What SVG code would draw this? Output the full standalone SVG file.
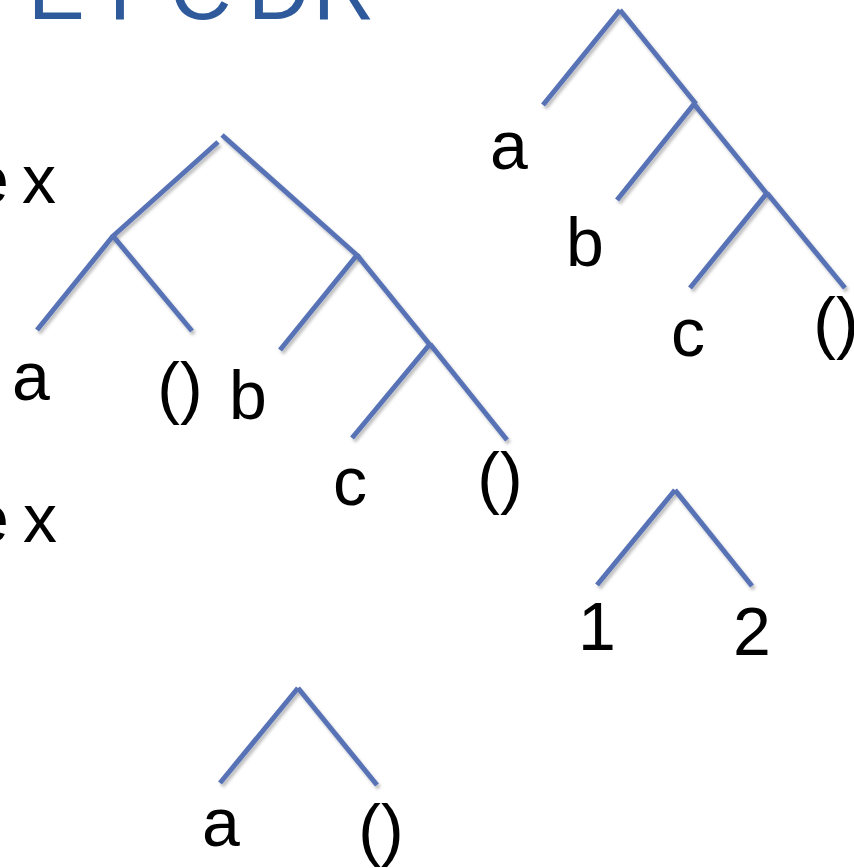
<svg xmlns="http://www.w3.org/2000/svg" width="854" height="868" viewBox="0 0 854 868">
<style>
.title{font-family:"Liberation Sans",Arial,sans-serif;font-size:85px;fill:#2E5A9B}
.lbl{font-family:"Liberation Sans",Arial,sans-serif;font-size:68px;fill:#000;text-anchor:middle}
.side{font-family:"Liberation Sans",Arial,sans-serif;font-size:68px;fill:#000}
.br{stroke:#5872B6;stroke-width:5;fill:none;stroke-linecap:butt;filter:url(#sh)}
</style>
<defs>
<filter id="sh" x="-20%" y="-20%" width="140%" height="140%">
<feDropShadow dx="2" dy="3" stdDeviation="1.5" flood-color="#000" flood-opacity="0.25"/>
</filter>
</defs>
<rect width="854" height="868" fill="#fff"/>
<text class="title" y="19"><tspan x="28">E</tspan><tspan x="94">T</tspan><tspan x="170">C</tspan><tspan x="248">D</tspan><tspan x="313">R</tspan></text>
<text class="side" y="203"><tspan x="-29">e</tspan><tspan x="22">x</tspan></text>
<text class="side" y="542"><tspan x="-29">e</tspan><tspan x="23">x</tspan></text>
<g id="connectors">
<line class="br" x1="218" y1="142" x2="112" y2="237"/>
<line class="br" x1="222" y1="135" x2="359" y2="257"/>
<line class="br" x1="113" y1="236" x2="37" y2="330"/>
<line class="br" x1="113" y1="236" x2="192" y2="331"/>
<line class="br" x1="357" y1="255" x2="280" y2="350"/>
<line class="br" x1="357" y1="255" x2="430" y2="345"/>
<line class="br" x1="430" y1="344" x2="352" y2="438"/>
<line class="br" x1="430" y1="344" x2="507" y2="440"/>
<line class="br" x1="620" y1="10" x2="543" y2="105"/>
<line class="br" x1="620" y1="10" x2="696" y2="104"/>
<line class="br" x1="694" y1="104" x2="617" y2="200"/>
<line class="br" x1="694" y1="104" x2="767" y2="194"/>
<line class="br" x1="767" y1="193" x2="690" y2="288"/>
<line class="br" x1="767" y1="193" x2="845" y2="288"/>
<line class="br" x1="675" y1="490" x2="597" y2="585"/>
<line class="br" x1="675" y1="490" x2="752" y2="586"/>
<line class="br" x1="298" y1="688" x2="220" y2="783"/>
<line class="br" x1="298" y1="688" x2="377" y2="785"/>
</g>
<g id="tree1-labels">
<text class="lbl" x="31" y="400">a</text>
<text class="lbl" x="180" y="411">()</text>
<text class="lbl" x="248" y="419">b</text>
<text class="lbl" x="350" y="505">c</text>
<text class="lbl" x="500" y="501">()</text>
</g>
<g id="tree2-labels">
<text class="lbl" x="509" y="169">a</text>
<text class="lbl" x="585" y="266">b</text>
<text class="lbl" x="688" y="356">c</text>
<text class="lbl" x="836" y="346">()</text>
</g>
<g id="tree3-labels">
<text class="lbl" x="597" y="650">1</text>
<text class="lbl" x="752" y="655">2</text>
</g>
<g id="tree4-labels">
<text class="lbl" x="221" y="846">a</text>
<text class="lbl" x="381" y="853">()</text>
</g>
</svg>
